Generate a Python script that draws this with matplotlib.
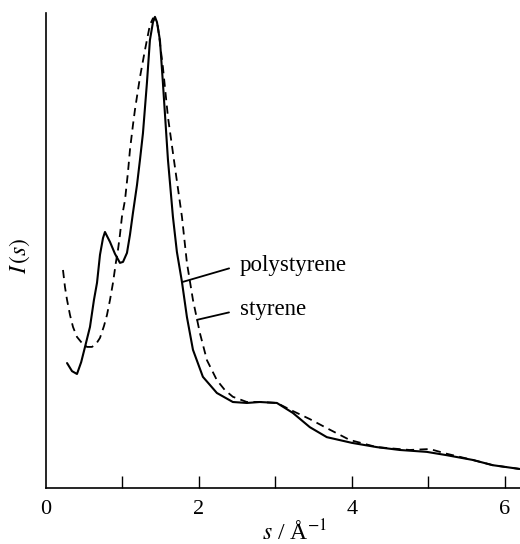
import matplotlib
matplotlib.use("Agg")
import matplotlib.pyplot as plt

plt.rcParams["font.family"] = ["Liberation Serif", "DejaVu Serif"]
plt.rcParams["mathtext.fontset"] = "stix"

# Scattering intensity I(s) vs s (Å^-1), arbitrary units
s_poly = [0.275, 0.34, 0.405, 0.46, 0.51, 0.575, 0.627, 0.667, 0.706, 0.745, 0.771,
          0.837, 0.902, 0.967, 1.007, 1.059, 1.098, 1.137, 1.19, 1.229, 1.268, 1.32,
          1.359, 1.399, 1.425, 1.451, 1.49, 1.529, 1.595, 1.66, 1.712, 1.778, 1.843,
          1.922, 2.052, 2.235, 2.444, 2.627, 2.797, 3.02, 3.229, 3.451, 3.673, 4.0,
          4.327, 4.627, 4.98, 5.242, 5.582, 5.843, 6.196]
I_poly = [2.63, 2.46, 2.40, 2.65, 2.97, 3.39, 3.96, 4.32, 4.91, 5.26, 5.39,
          5.18, 4.93, 4.74, 4.76, 4.95, 5.33, 5.79, 6.38, 6.91, 7.47, 8.53,
          9.43, 9.81, 9.92, 9.81, 9.43, 8.53, 6.91, 5.71, 4.97, 4.34, 3.60,
          2.91, 2.34, 2.00, 1.81, 1.79, 1.81, 1.79, 1.58, 1.28, 1.07, 0.95,
          0.86, 0.80, 0.76, 0.69, 0.59, 0.48, 0.40]

s_sty = [0.222, 0.248, 0.275, 0.314, 0.353, 0.405, 0.471, 0.536, 0.601, 0.654, 0.706,
         0.758, 0.797, 0.837, 0.876, 0.915, 0.941, 0.967, 0.993, 1.033, 1.072, 1.098,
         1.137, 1.163, 1.229, 1.294, 1.359, 1.399, 1.438, 1.464, 1.529, 1.595, 1.686,
         1.778, 1.843, 1.922, 2.013, 2.105, 2.235, 2.34, 2.444, 2.627, 2.797, 3.02,
         3.229, 3.451, 3.673, 3.974, 4.327, 4.758, 5.02, 5.242, 5.582, 5.843, 6.196]
I_sty = [4.59, 4.23, 3.96, 3.64, 3.39, 3.18, 3.05, 2.97, 2.97, 3.03, 3.16,
         3.41, 3.64, 3.96, 4.32, 4.76, 5.01, 5.33, 5.71, 6.06, 6.65, 7.12,
         7.64, 7.96, 8.65, 9.22, 9.75, 9.89, 9.85, 9.71, 8.86, 7.81, 6.76,
         5.71, 4.74, 3.96, 3.26, 2.69, 2.27, 2.06, 1.92, 1.81, 1.81, 1.79,
         1.62, 1.45, 1.26, 1.01, 0.86, 0.80, 0.82, 0.72, 0.59, 0.48, 0.40]

x_ticks = [1, 2, 3, 4, 5, 6]
x_ticklabels = ["", "2", "", "4", "", "6"]

fig = plt.figure(figsize=(5.2, 5.44), dpi=100)
ax = fig.add_axes([0.0885, 0.103, 0.9115, 0.873])

ax.plot(s_poly, I_poly, color="black", lw=1.5, solid_capstyle="round",
        solid_joinstyle="round")
ax.plot(s_sty, I_sty, color="black", lw=1.3, linestyle=(0, (4.5, 3.0)))

ax.set_xlim(0, 6.2)
ax.set_ylim(0, 10)

for side in ("top", "right"):
    ax.spines[side].set_visible(False)
for side in ("left", "bottom"):
    ax.spines[side].set_linewidth(1.2)

ax.set_xticks(x_ticks)
ax.set_xticklabels(x_ticklabels)
ax.tick_params(axis="x", direction="in", length=8.5, width=1.0, pad=9,
               labelsize=16)
ax.set_yticks([])
ax.text(0, -0.026, "0", transform=ax.get_xaxis_transform(), ha="center",
        va="top", fontsize=16)

ax.set_xlabel(r"$s$ / Å$^{-1}$", fontsize=17)
ax.xaxis.set_label_coords(0.525, -0.066)
ax.set_ylabel(r"$I\,(s)$", fontsize=17)
ax.yaxis.set_label_coords(-0.03, 0.49)

# Curve labels with leader lines
ax.annotate("polystyrene", xy=(1.791, 4.34), xytext=(2.536, 4.69),
            ha="left", va="center", fontsize=16.5,
            arrowprops=dict(arrowstyle="-", color="black", lw=1.3,
                            relpos=(0, 0.5), shrinkA=6, shrinkB=0))
ax.annotate("styrene", xy=(1.974, 3.54), xytext=(2.536, 3.75),
            ha="left", va="center", fontsize=16.5,
            arrowprops=dict(arrowstyle="-", color="black", lw=1.3,
                            relpos=(0, 0.5), shrinkA=6, shrinkB=0))

fig.savefig("out.png", dpi=100)
